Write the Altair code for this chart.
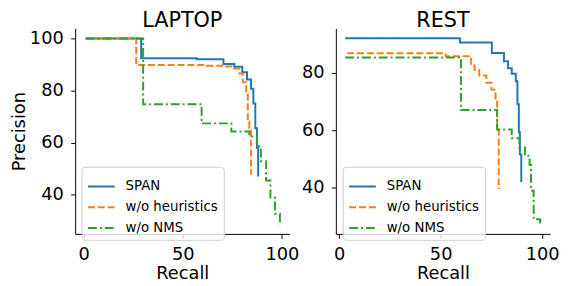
import altair as alt
import pandas as pd

series = ["SPAN", "w/o heuristics", "w/o NMS"]
colors = ["#1f77b4", "#ff7f0e", "#2ca02c"]
dashes = [[1, 0], [7, 3], [9, 3, 2, 3]]

# LAPTOP
lap_span_r = [1, 29, 57, 70.5, 76, 80, 82.4, 84.4, 85.6, 86.6, 87.4, 88]
lap_span_p = [100, 92.4, 92.0, 90.2, 89.1, 87.0, 84.2, 80.7, 75.0, 65.5, 58.0, 47.0]
lap_heur_r = [1, 26.5, 62, 72, 76, 78.5, 80.3, 82, 82.8, 83.6, 84.4]
lap_heur_p = [100, 89.8, 89.5, 89.2, 88.4, 86.5, 83.2, 79.4, 68.0, 65.5, 47.8]
lap_nms_r = [1, 30, 59.5, 74.5, 83.6, 87.4, 89.4, 92.0, 94.2, 96.5, 99]
lap_nms_p = [100, 74.7, 67.4, 64.3, 62.4, 58.6, 52.9, 45.5, 39.0, 32.7, 28.2]

# REST
rest_span_r = [3, 59.5, 75.2, 81.2, 83.2, 85.0, 87.0, 87.8, 88.5, 89.0, 89.7]
rest_span_p = [91.9, 90.4, 86.8, 83.9, 81.5, 79.6, 77.0, 69.0, 59.3, 51.6, 42.0]
rest_heur_r = [4, 52.5, 65, 66.7, 69, 72.5, 75, 77, 77.8, 78.6]
rest_heur_p = [86.7, 85.7, 82.5, 81.0, 79.0, 76.5, 74.0, 71.0, 60.5, 39.6]
rest_nms_r = [3, 60, 77.8, 85, 88.8, 91.5, 93.8, 94.5, 95.8, 99]
rest_nms_p = [85.2, 67.0, 60.2, 57.2, 54.0, 51.1, 48.0, 39.0, 29.1, 27.6]

FONT = "DejaVu Sans"
W, H = 217, 208
LEG_H = 61


def frame(groups):
    rows = []
    for name, rs, ps in groups:
        for i, (r, p) in enumerate(zip(rs, ps)):
            rows.append({"series": name, "recall": r, "precision": p, "idx": i})
    return pd.DataFrame(rows)


def panel(df, title, xdom, ydom, yvals, ytitle, lx):
    legend = alt.Legend(
        title=None, orient="none", legendX=lx, legendY=H - 7 - LEG_H,
        fillColor="rgba(255,255,255,0.8)",
        strokeColor="#cccccc", cornerRadius=3, padding=5.5, symbolType="stroke",
        symbolSize=729, symbolStrokeWidth=2, labelFontSize=13.5, labelFont=FONT,
        labelColor="black", rowPadding=-3.5, labelOffset=10,
    )
    return alt.Chart(df).mark_line(interpolate="step-after", strokeWidth=2).encode(
        x=alt.X("recall:Q", scale=alt.Scale(domain=xdom, nice=False, zero=False),
                axis=alt.Axis(values=[0, 50, 100], title="Recall")),
        y=alt.Y("precision:Q", scale=alt.Scale(domain=ydom, nice=False, zero=False),
                axis=alt.Axis(values=yvals, title=ytitle)),
        color=alt.Color("series:N", scale=alt.Scale(domain=series, range=colors), legend=legend),
        strokeDash=alt.StrokeDash("series:N", scale=alt.Scale(domain=series, range=dashes), legend=legend),
        detail="series:N",
        order="idx:Q",
    ).properties(
        width=W, height=H,
        title=alt.TitleParams(title, fontSize=21, font=FONT, fontWeight="normal", color="black", offset=-2.5),
    )


lap = frame([("SPAN", lap_span_r, lap_span_p), ("w/o heuristics", lap_heur_r, lap_heur_p),
             ("w/o NMS", lap_nms_r, lap_nms_p)])
rest = frame([("SPAN", rest_span_r, rest_span_p), ("w/o heuristics", rest_heur_r, rest_heur_p),
              ("w/o NMS", rest_nms_r, rest_nms_p)])

left = panel(lap, "LAPTOP", [-4.3, 103.8], [25, 103.8], [40, 60, 80, 100], "Precision", 6.5)
right = panel(rest, "REST", [-1.6, 103.9], [24, 95.3], [40, 60, 80], None, 7)

chart = alt.hconcat(left, right, spacing=0).resolve_scale(
    x="independent", y="independent", color="independent", strokeDash="independent"
).resolve_legend(color="independent", strokeDash="independent").properties(
    padding={"left": 2, "top": 0, "right": 0, "bottom": 0}
).configure_view(stroke="transparent").configure_axis(
    grid=False, labelFont=FONT, titleFont=FONT, labelFontSize=18, titleFontSize=18,
    labelColor="black", titleColor="black", titleFontWeight="normal",
    domainColor="black", tickColor="black", tickSize=4.5, labelPadding=7.5, titlePadding=1,
    domainWidth=1, tickWidth=1,
)

chart.save("out.html", embed_options={"renderer": "svg", "actions": False})
